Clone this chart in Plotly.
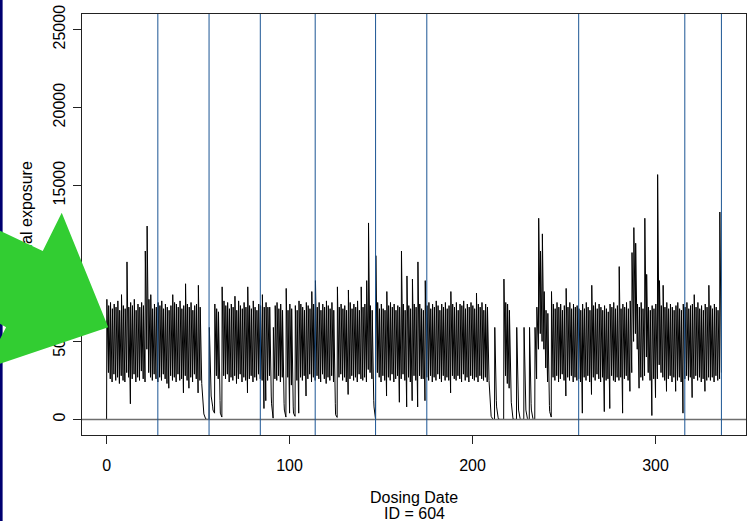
import plotly.graph_objects as go

# ---------------- data ----------------
start_conc = 0
# concentration shortly after each daily dose (day 0 .. 335)
peak = [
    7700, 7300, 7500, 7100, 7400, 7200, 7600, 7000, 8000, 7300,
    7100, 10100, 7200, 7500, 7300, 7700, 7000, 7400, 7200, 7500,
    7300, 10800, 12400, 7700, 8000, 7100, 7400, 7200, 7500, 7300,
    7600, 7100, 7400, 7200, 7000, 7300, 8000, 7500, 7400, 7200,
    7600, 7100, 7300, 8700, 7400, 7200, 7500, 7000, 7300, 7400,
    8600, 7200, 2000, 350, 20, 0, 5900, 1500, 600, 7400,
    7100, 6900, 400, 8500, 7600, 7300, 7500, 7100, 7400, 7200,
    7900, 7000, 7600, 7300, 7100, 7500, 7200, 8500, 7300, 7100,
    7600, 7200, 7000, 7400, 7300, 8000, 7200, 7500, 7200, 7200,
    1000, 5900, 7300, 7500, 7100, 7400, 7000, 600, 8400, 7000,
    7400, 7100, 400, 7300, 7000, 7600, 7400, 7200, 7000, 7500,
    7300, 7100, 8200, 7400, 8900, 7200, 7500, 7000, 7400, 7200,
    7600, 7300, 7100, 7500, 7000, 300, 8500, 7200, 7400, 7100,
    7300, 7000, 8300, 7500, 7100, 7400, 7200, 7600, 7000, 8500,
    7200, 7400, 8900, 12600, 7300, 7000, 800, 10500, 7500, 7100,
    7400, 7100, 7000, 8200, 7300, 7500, 7200, 7400, 7000, 7300,
    7200, 10800, 7400, 7000, 9200, 7300, 7100, 9000, 7400, 7200,
    10100, 7400, 7100, 7000, 8900, 7300, 7500, 7100, 7400, 7200,
    7600, 7300, 7000, 7400, 7200, 7500, 7100, 7300, 8200, 7400,
    7200, 7500, 7000, 7400, 7300, 7600, 7100, 7400, 7200, 7500,
    7300, 7100, 8100, 7400, 7200, 7500, 7000, 7400, 7200, 2100,
    200, 0, 5900, 800, 30, 0, 0, 9000, 7500, 7400,
    7000, 1100, 20, 0, 5900, 600, 0, 0, 5900, 600,
    0, 5900, 600, 0, 5900, 7200, 12900, 10800, 11900, 8200,
    7000, 6800, 500, 8200, 7400, 7100, 7500, 7200, 7400, 7000,
    7300, 8400, 7200, 7500, 7100, 7400, 7200, 7300, 7100, 7000,
    7400, 7100, 7500, 7200, 7000, 8600, 7300, 7500, 7100, 7400,
    7200, 7000, 7300, 7100, 6900, 7400, 7200, 7500, 7100, 7300,
    9800, 7100, 7400, 7200, 7500, 7100, 7600, 10700, 12300, 11300,
    7400, 7200, 7500, 7100, 12900, 9300, 7200, 7000, 7300, 7100,
    7400, 15700, 8900, 7300, 8600, 7200, 7500, 7100, 7400, 7200,
    7000, 7300, 7500, 7100, 7000, 7400, 7200, 7500, 7100, 7300,
    7400, 8000, 7200, 7500, 7100, 7300, 7000, 7400, 7200, 8600,
    7300, 7100, 7400, 7200, 7000, 13300,
]
# concentration just before the next dose (end of day 0 .. 335)
trough = [
    3000, 2600, 2400, 2900, 2500, 2700, 2300, 2800, 2500, 2400,
    3000, 2700, 1000, 2600, 2900, 2400, 2700, 2500, 3100, 2600,
    2400, 4500, 3000, 2700, 2500, 2900, 2600, 2400, 2700, 2500,
    2900, 2600, 2300, 2000, 2800, 2500, 2700, 2400, 2900, 2500,
    2600, 1700, 2800, 2500, 2000, 2700, 2400, 2900, 2600, 1700,
    2500, 2300, 500, 80, 0, 0, 2000, 800, 400, 2800,
    2600, 1200, 150, 2800, 2600, 2900, 2400, 2700, 2500, 2800,
    2300, 2600, 2900, 2400, 2700, 2500, 1700, 2600, 2800, 2400,
    2700, 2500, 2900, 2600, 2500, 700, 1200, 2500, 2800, 1500,
    80, 2600, 2500, 2800, 2400, 2700, 1000, 150, 2700, 400,
    2200, 800, 200, 2500, 400, 2700, 2500, 2800, 1500, 2600,
    2900, 2400, 2700, 2500, 2800, 2600, 2400, 2900, 2600, 2300,
    2700, 2500, 2800, 2400, 1000, 130, 2700, 2900, 2500, 2700,
    2400, 1600, 2600, 2800, 2500, 2700, 2400, 2900, 2600, 2500,
    2700, 2400, 3200, 3000, 2600, 1200, 0, 3000, 2700, 2400,
    2800, 2500, 1500, 2700, 2500, 2900, 2400, 2600, 2800, 1100,
    2600, 2900, 2500, 800, 2700, 2400, 1200, 2800, 2500, 800,
    2800, 2600, 2600, 1200, 2700, 2500, 2800, 2400, 2700, 2500,
    2900, 2600, 2400, 2800, 2500, 2700, 2500, 1700, 2800, 2600,
    2500, 2800, 2600, 2400, 2900, 2500, 2700, 2400, 2800, 2600,
    2500, 2700, 2400, 2800, 2600, 2500, 2700, 2400, 2500, 400,
    30, 0, 1200, 100, 0, 0, 0, 2800, 2300, 2000,
    1500, 150, 0, 0, 1000, 50, 0, 0, 1000, 50,
    0, 1000, 50, 0, 2600, 4500, 5500, 5000, 4500, 3300,
    2400, 900, 150, 2700, 2500, 2800, 2400, 2600, 2900, 2500,
    1500, 2700, 2500, 2800, 2400, 2700, 2500, 2600, 2400, 400,
    2700, 2500, 2800, 2400, 1600, 2700, 2500, 2900, 2600, 2400,
    2700, 500, 2500, 2600, 700, 2800, 2500, 2400, 2700, 2500,
    2700, 400, 2600, 2800, 2500, 1800, 3000, 5000, 5500, 4500,
    2000, 2700, 2500, 2800, 4000, 3000, 2500, 250, 2600, 1400,
    2600, 3500, 3000, 2700, 2500, 1800, 2600, 2800, 2400, 2700,
    1800, 2500, 2700, 2400, 400, 2600, 2800, 2500, 2700, 1400,
    2600, 2800, 2500, 2700, 2400, 2600, 1800, 2500, 2700, 2500,
    2700, 2400, 2800, 2500, 2600, 3000,
]
marker_days = [28, 56, 84, 114, 147, 175, 258, 316, 336]
x_ticks = [0, 100, 200, 300]
y_ticks = [0, 5000, 10000, 15000, 20000, 25000]
x_title = "Dosing Date"
subject_label = "ID = 604"
y_title_hidden = "Individu"
y_title_visible = "al exposure"

# ---------------- build the time course ----------------
PEAK_OFFSET = 0.15
n = min(len(peak), len(trough))
t_vals = [0.0]
c_vals = [start_conc]
for d in range(n):
    t_vals += [d + PEAK_OFFSET, d + 1.0]
    c_vals += [peak[d], trough[d]]

# ---------------- geometry helpers (pixels -> paper) ----------------
W, H = 752, 521
ML, MR, MT, MB = 82, 5, 12, 86
PW, PH = W - ML - MR, H - MT - MB


def px(x):
    return (x - ML) / PW


def py(y):
    return (H - MB - y) / PH


GREEN = "#32CD32"
FONT = "Liberation Sans, Arial, Helvetica, sans-serif"

fig = go.Figure()
fig.add_trace(go.Scatter(x=t_vals, y=c_vals, mode="lines",
                         line=dict(color="black", width=1),
                         hoverinfo="skip", showlegend=False))

shapes = []
# horizontal zero line
shapes.append(dict(type="line", xref="paper", yref="y", x0=0, x1=1, y0=0, y1=0,
                   line=dict(color="#6e6e6e", width=1.5), layer="above"))
# dosing markers
for d in marker_days:
    shapes.append(dict(type="line", xref="x", yref="paper", x0=d, x1=d, y0=0, y1=1,
                       line=dict(color="#1c5694", width=1), layer="above"))
# navy frame strip on the left edge
shapes.append(dict(type="rect", xref="paper", yref="paper",
                   x0=px(-5), x1=px(2.5), y0=py(H + 5), y1=py(-5),
                   fillcolor="#000070", line=dict(width=0), layer="above"))
# green arrow overlay
arrow_px = [(108.3, 326.7), (61.7, 211.7), (42.7, 250.0), (-100, 183.0),
            (-100, 266.0), (6.0, 326.7), (-15.7, 368.6)]
path = "M " + " L ".join(f"{px(a):.5f},{py(b):.5f}" for a, b in arrow_px) + " Z"
shapes.append(dict(type="path", xref="paper", yref="paper", path=path,
                   fillcolor=GREEN, line=dict(width=0), layer="above"))

annotations = [
    dict(text=x_title, xref="paper", yref="paper", x=0.5, y=py(498),
         xanchor="center", yanchor="middle", showarrow=False,
         font=dict(size=16, color="black", family=FONT)),
    dict(text=subject_label, xref="paper", yref="paper", x=0.5, y=py(514),
         xanchor="center", yanchor="middle", showarrow=False,
         font=dict(size=16, color="black", family=FONT)),
    dict(text=f"<span style='color:{GREEN}'>{y_title_hidden}</span>{y_title_visible}",
         xref="paper", yref="paper", x=px(27), y=py(229), textangle=-90,
         xanchor="center", yanchor="middle", showarrow=False,
         font=dict(size=16, color="black", family=FONT)),
]

axis_common = dict(showgrid=False, zeroline=False, showline=True, mirror=True,
                   linecolor="#222", linewidth=1, ticks="outside", ticklen=8,
                   tickwidth=1, tickcolor="#222",
                   tickfont=dict(size=16, color="black", family=FONT))

fig.update_layout(
    width=W, height=H,
    margin=dict(l=ML, r=MR, t=MT, b=MB, pad=0),
    paper_bgcolor="white", plot_bgcolor="white",
    font=dict(family=FONT, size=16, color="black"),
    xaxis=dict(range=[-13.44, 349.44], tickmode="array", tickvals=x_ticks,
               ticktext=[str(v) for v in x_ticks],
               ticklabelstandoff=8, **axis_common),
    yaxis=dict(range=[-1000, 26000], tickmode="array", tickvals=y_ticks,
               ticktext=[str(v) for v in y_ticks],
               tickangle=-90, ticklabelstandoff=2, **axis_common),
    shapes=shapes,
    annotations=annotations,
    showlegend=False,
)

fig.write_html("out.html",
               config={"displayModeBar": False, "staticPlot": True},
               post_script="document.body.style.margin='0';"
                           "document.body.style.overflow='hidden';")
